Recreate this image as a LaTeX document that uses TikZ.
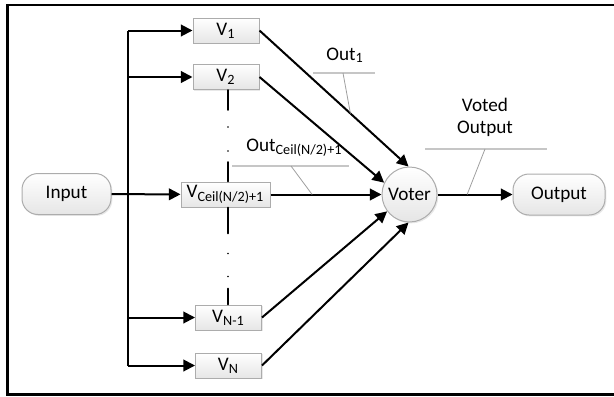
\documentclass[tikz,border=0pt]{standalone}
\usepackage{fontspec}
\setmainfont{Carlito}
\usetikzlibrary{positioning,arrows.meta,calc,shadows}

\newcommand\lo[1]{\textsubscript{\fontsize{7.1}{8}\selectfont #1}}

\tikzset{
	box/.style={draw=gray!65, line width=0.5pt, top color=white, bottom color=gray!20,
		minimum width=33pt, minimum height=12.5pt, inner sep=0pt,
		drop shadow={opacity=0.18, shadow xshift=0.7pt, shadow yshift=-0.7pt}},
	pill/.style={box, rounded corners=8pt, minimum width=44.5pt, minimum height=20.5pt},
	voter/.style={box, circle, minimum size=27.5pt},
	flow/.style={line width=1pt, -{Triangle[length=5.8pt,width=5.8pt]}},
	wire/.style={line width=1pt},
	dots/.style={line width=0.9pt, line cap=round},
	callout/.style={gray!45, line width=1pt},
	leader/.style={gray!75, line width=0.4pt},
}

\begin{document}
\begin{tikzpicture}[x=0.5pt, y=-0.5pt, font=\fontsize{9.6}{11.2}\selectfont]
	\useasboundingbox (0,0) rectangle (614,396);
	%% 外框
	\draw[line width=1.4pt] (614,5) -- (7.3,5) -- (7.3,394.5) -- (614,394.5);
	%% 节点
	\node[pill] (input) at (66.5,194) {Input};
	\node[box] (V1) at (226,30.5) {V\lo{1}};
	\node[box] (V2) at (226,77) {V\lo{2}};
	\node[box, minimum width=44.5pt] (Vc) at (225.5,194.5) {V\lo{Ceil(N/2)+1}};
	\node[box] (Vn1) at (228.5,317.5) {V\lo{N-1}};
	\node[box] (Vn) at (228.5,365.5) {V\lo{N}};
	\node[voter] (voter) at (409.5,194.5) {Voter};
	\node[pill, minimum width=46pt] (output) at (559,194.5) {Output};
	%% 总线
	\coordinate (bus) at (128,194);
	\coordinate (col) at (228,0);
	\draw[wire] (bus |- V1) -- (bus |- Vn);
	\draw[flow] (input) -- (Vc);
	\foreach \v in {V1,V2,Vn1,Vn}
		\draw[flow] (bus |- \v) -- (\v);
	%% 省略号
	\draw[dots, dash pattern=on 10pt off 8.5pt on 0pt off 12pt on 0pt off 5.5pt on 10pt]
		(V2.south -| col) -- (Vc.north -| col);
	\draw[dots, dash pattern=on 13pt off 10pt on 0pt off 11.5pt on 0pt off 6pt on 8.5pt]
		(Vc.south -| col) -- (Vn1.north -| col);
	%% 到投票器
	\draw[flow] (V1.east) -- (voter.92);
	\draw[flow] (V2.east) -- (voter.155);
	\draw[flow] (Vc) -- (voter);
	\draw[flow] (Vn1.east) -- (voter.217);
	\draw[flow] (Vn.east) -- (voter.268);
	\draw[flow] (voter) -- (output);
	%% 标注
	\node[anchor=base] (out1) at (345,60) {Out\lo{1}};
	\coordinate (o1a) at (313,73);
	\coordinate (o1b) at (375,73);
	\coordinate (o1c) at (343,73);
	\coordinate (o1f) at ($(V1.east)!0.61!(voter.92)$);
	\draw[callout] (o1a) -- (o1b);
	\draw[leader] (o1c) -- (o1f);
	%%%
	\node[anchor=base] (outc) at (294.5,151) {Out\lo{Ceil(N/2)+1}};
	\coordinate (oca) at (232,166);
	\coordinate (ocb) at (349,166);
	\coordinate (occ) at (291,166);
	\coordinate (ocf) at ($(Vc.east)!0.375!(voter.west)$);
	\draw[callout] (oca) -- (ocb);
	\draw[leader] (occ) -- (ocf);
	%%%
	\node[align=center] (voted) at (485,117.5) {Voted\\Output};
	\coordinate (ova) at (425,149);
	\coordinate (ovb) at (547,149);
	\coordinate (ovc) at (485,149);
	\coordinate (ovf) at ($(voter.east)!0.395!(output.west)$);
	\draw[callout] (ova) -- (ovb);
	\draw[leader] (ovc) -- (ovf);
\end{tikzpicture}
\end{document}
